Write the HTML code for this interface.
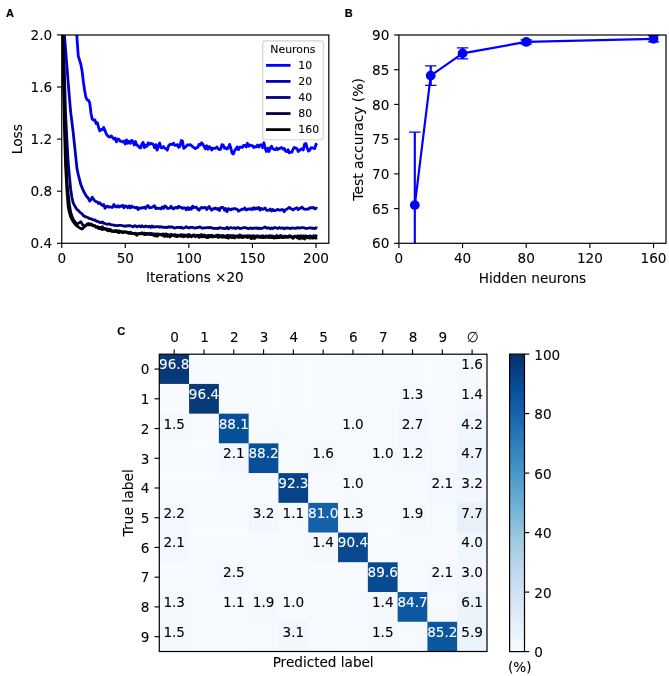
<!DOCTYPE html>
<html><head><meta charset="utf-8"><title>Figure</title>
<style>html,body{margin:0;padding:0;background:#fff}svg{display:block}</style>
</head><body>
<svg width="669" height="676" viewBox="0 0 669 676">
<clipPath id="ca"><rect x="61.75" y="35.0" width="267.05" height="208.3"/></clipPath>
<g clip-path="url(#ca)" fill="none" stroke-width="2.8" stroke-linejoin="round" stroke-linecap="butt">
<path d="M61.75 -290.72 L63.02 -261.42 L64.29 -232.11 L65.56 -202.81 L66.84 -173.50 L68.11 -144.19 L69.38 -114.89 L70.65 -85.58 L71.92 -56.28 L73.19 -32.90 L74.46 -9.52 L75.73 13.86 L77.01 38.65 L78.28 56.10 L79.55 60.17 L80.82 64.24 L82.09 70.96 L83.36 81.65 L84.63 90.43 L85.90 97.28 L87.18 100.03 L88.45 100.03 L89.72 102.85 L90.99 113.26 L92.26 119.13 L93.53 120.02 L94.80 119.83 L96.08 123.44 L97.35 122.75 L98.62 127.43 L99.89 130.98 L101.16 129.37 L102.43 129.75 L103.70 127.54 L104.97 130.41 L106.25 133.89 L107.52 135.52 L108.79 136.94 L110.06 137.00 L111.33 135.86 L112.60 137.63 L113.87 139.14 L115.14 137.99 L116.42 141.81 L117.69 138.97 L118.96 139.34 L120.23 141.20 L121.50 141.40 L122.77 141.99 L124.04 140.89 L125.31 143.96 L126.59 139.88 L127.86 143.31 L129.13 141.34 L130.40 143.39 L131.67 140.35 L132.94 141.48 L134.21 145.05 L135.49 141.54 L136.76 145.15 L138.03 145.59 L139.30 147.33 L140.57 147.93 L141.84 144.28 L143.11 142.37 L144.38 147.63 L145.66 145.25 L146.93 146.37 L148.20 142.83 L149.47 144.32 L150.74 143.49 L152.01 143.58 L153.28 144.39 L154.55 147.83 L155.83 144.63 L157.10 150.11 L158.37 145.74 L159.64 142.96 L160.91 147.68 L162.18 147.92 L163.45 146.50 L164.73 148.26 L166.00 148.30 L167.27 150.17 L168.54 145.83 L169.81 144.62 L171.08 144.17 L172.35 144.54 L173.62 143.13 L174.90 145.41 L176.17 145.43 L177.44 144.56 L178.71 147.31 L179.98 146.34 L181.25 140.51 L182.52 141.12 L183.79 148.42 L185.07 147.46 L186.34 146.13 L187.61 144.76 L188.88 145.05 L190.15 144.60 L191.42 145.67 L192.69 146.56 L193.97 147.71 L195.24 148.61 L196.51 147.70 L197.78 147.55 L199.05 144.33 L200.32 145.10 L201.59 142.84 L202.86 144.26 L204.14 146.48 L205.41 148.88 L206.68 145.81 L207.95 149.19 L209.22 146.62 L210.49 147.61 L211.76 149.99 L213.03 148.15 L214.31 148.35 L215.58 148.27 L216.85 147.07 L218.12 148.61 L219.39 149.60 L220.66 149.14 L221.93 144.65 L223.21 145.11 L224.48 148.20 L225.75 147.76 L227.02 149.10 L228.29 147.76 L229.56 144.40 L230.83 148.08 L232.10 153.28 L233.38 153.94 L234.65 150.69 L235.92 148.93 L237.19 146.89 L238.46 149.66 L239.73 147.10 L241.00 147.09 L242.27 147.47 L243.55 145.42 L244.82 145.43 L246.09 146.92 L247.36 143.27 L248.63 146.22 L249.90 144.87 L251.17 145.61 L252.45 145.60 L253.72 147.53 L254.99 146.59 L256.26 146.89 L257.53 145.07 L258.80 147.07 L260.07 144.91 L261.34 144.84 L262.62 147.71 L263.89 142.74 L265.16 148.19 L266.43 151.54 L267.70 148.15 L268.97 151.55 L270.24 148.12 L271.51 146.18 L272.79 148.78 L274.06 149.29 L275.33 149.60 L276.60 148.04 L277.87 149.45 L279.14 148.57 L280.41 148.10 L281.68 147.51 L282.96 149.14 L284.23 148.42 L285.50 151.04 L286.77 151.62 L288.04 149.71 L289.31 152.90 L290.58 152.08 L291.86 152.23 L293.13 149.08 L294.40 147.36 L295.67 148.11 L296.94 148.59 L298.21 151.56 L299.48 150.27 L300.75 149.35 L302.03 148.70 L303.30 150.01 L304.57 143.98 L305.84 143.52 L307.11 147.77 L308.38 151.11 L309.65 150.40 L310.92 147.96 L312.20 147.73 L313.47 148.24 L314.74 148.64 L316.01 144.36 L317.28 143.82" stroke="#0000ff"/>
<path d="M61.75 -4.17 L63.02 14.43 L64.29 33.04 L65.56 49.29 L66.84 65.28 L68.11 81.27 L69.38 97.26 L70.65 112.05 L71.92 122.01 L73.19 132.41 L74.46 144.57 L75.73 156.72 L77.01 168.88 L78.28 174.59 L79.55 179.69 L80.82 184.61 L82.09 187.77 L83.36 190.75 L84.63 193.08 L85.90 195.41 L87.18 197.02 L88.45 198.49 L89.72 201.09 L90.99 199.82 L92.26 197.12 L93.53 199.19 L94.80 200.84 L96.08 201.68 L97.35 201.94 L98.62 203.64 L99.89 202.82 L101.16 204.26 L102.43 205.61 L103.70 204.43 L104.97 208.26 L106.25 206.74 L107.52 206.09 L108.79 207.27 L110.06 206.72 L111.33 207.30 L112.60 207.45 L113.87 204.52 L115.14 206.50 L116.42 207.05 L117.69 205.73 L118.96 207.08 L120.23 205.99 L121.50 206.40 L122.77 205.17 L124.04 207.88 L125.31 205.82 L126.59 206.33 L127.86 207.71 L129.13 205.92 L130.40 207.93 L131.67 205.90 L132.94 207.15 L134.21 207.22 L135.49 207.92 L136.76 207.14 L138.03 209.63 L139.30 207.84 L140.57 208.45 L141.84 207.59 L143.11 207.86 L144.38 207.22 L145.66 208.52 L146.93 206.05 L148.20 205.59 L149.47 207.86 L150.74 207.66 L152.01 207.35 L153.28 206.43 L154.55 205.83 L155.83 208.62 L157.10 208.06 L158.37 208.44 L159.64 208.45 L160.91 208.90 L162.18 207.05 L163.45 208.41 L164.73 206.01 L166.00 206.57 L167.27 208.37 L168.54 208.39 L169.81 208.04 L171.08 206.23 L172.35 208.31 L173.62 208.92 L174.90 207.63 L176.17 207.27 L177.44 208.24 L178.71 206.19 L179.98 207.47 L181.25 207.30 L182.52 208.52 L183.79 207.80 L185.07 207.94 L186.34 209.89 L187.61 207.58 L188.88 209.51 L190.15 207.92 L191.42 209.27 L192.69 206.11 L193.97 207.68 L195.24 207.22 L196.51 207.19 L197.78 209.26 L199.05 210.16 L200.32 208.41 L201.59 207.31 L202.86 208.08 L204.14 207.47 L205.41 207.36 L206.68 209.60 L207.95 208.00 L209.22 206.50 L210.49 208.84 L211.76 210.19 L213.03 208.58 L214.31 208.82 L215.58 208.06 L216.85 209.31 L218.12 208.47 L219.39 210.62 L220.66 207.87 L221.93 207.26 L223.21 207.57 L224.48 210.19 L225.75 208.57 L227.02 211.63 L228.29 208.71 L229.56 209.08 L230.83 209.98 L232.10 208.81 L233.38 209.05 L234.65 208.37 L235.92 209.16 L237.19 209.12 L238.46 211.16 L239.73 210.49 L241.00 209.83 L242.27 209.08 L243.55 209.31 L244.82 207.89 L246.09 210.01 L247.36 209.39 L248.63 208.90 L249.90 209.30 L251.17 208.59 L252.45 209.52 L253.72 207.66 L254.99 209.21 L256.26 207.85 L257.53 208.85 L258.80 207.42 L260.07 210.12 L261.34 208.43 L262.62 209.36 L263.89 208.82 L265.16 208.00 L266.43 210.19 L267.70 210.41 L268.97 210.18 L270.24 209.10 L271.51 211.11 L272.79 209.36 L274.06 210.69 L275.33 210.62 L276.60 209.97 L277.87 209.35 L279.14 210.21 L280.41 210.04 L281.68 209.58 L282.96 209.74 L284.23 211.88 L285.50 209.78 L286.77 209.25 L288.04 208.28 L289.31 207.36 L290.58 208.57 L291.86 209.05 L293.13 209.95 L294.40 208.94 L295.67 208.26 L296.94 207.76 L298.21 209.68 L299.48 208.63 L300.75 208.07 L302.03 207.09 L303.30 208.52 L304.57 209.21 L305.84 209.31 L307.11 208.98 L308.38 209.22 L309.65 207.83 L310.92 207.58 L312.20 207.86 L313.47 207.40 L314.74 208.87 L316.01 208.08 L317.28 208.74" stroke="#0000bf"/>
<path d="M61.75 -95.35 L63.02 13.19 L64.29 69.63 L65.56 113.05 L66.84 138.38 L68.11 161.46 L69.38 175.59 L70.65 188.96 L71.92 197.54 L73.19 202.78 L74.46 205.35 L75.73 207.64 L77.01 209.48 L78.28 210.32 L79.55 211.84 L80.82 213.12 L82.09 213.83 L83.36 215.80 L84.63 216.26 L85.90 217.04 L87.18 217.06 L88.45 217.96 L89.72 218.70 L90.99 218.74 L92.26 219.41 L93.53 220.07 L94.80 219.81 L96.08 220.87 L97.35 221.36 L98.62 221.72 L99.89 222.48 L101.16 222.50 L102.43 221.91 L103.70 223.35 L104.97 223.34 L106.25 224.14 L107.52 224.30 L108.79 223.82 L110.06 224.19 L111.33 224.90 L112.60 224.79 L113.87 225.24 L115.14 225.34 L116.42 225.52 L117.69 225.64 L118.96 225.28 L120.23 225.30 L121.50 225.43 L122.77 225.75 L124.04 226.27 L125.31 225.82 L126.59 226.21 L127.86 225.57 L129.13 225.75 L130.40 225.74 L131.67 226.22 L132.94 226.85 L134.21 225.83 L135.49 225.77 L136.76 226.87 L138.03 226.27 L139.30 225.89 L140.57 226.81 L141.84 225.73 L143.11 226.60 L144.38 226.92 L145.66 225.99 L146.93 226.45 L148.20 226.86 L149.47 226.29 L150.74 227.43 L152.01 226.00 L153.28 227.06 L154.55 226.66 L155.83 226.97 L157.10 226.67 L158.37 226.53 L159.64 227.24 L160.91 226.64 L162.18 227.10 L163.45 227.29 L164.73 227.14 L166.00 227.48 L167.27 227.43 L168.54 226.78 L169.81 227.24 L171.08 226.77 L172.35 227.08 L173.62 227.68 L174.90 228.05 L176.17 227.61 L177.44 227.27 L178.71 227.41 L179.98 227.77 L181.25 227.08 L182.52 228.19 L183.79 228.03 L185.07 227.52 L186.34 226.75 L187.61 227.48 L188.88 228.06 L190.15 227.45 L191.42 227.42 L192.69 227.33 L193.97 227.87 L195.24 228.03 L196.51 227.69 L197.78 227.58 L199.05 227.13 L200.32 226.95 L201.59 228.06 L202.86 227.99 L204.14 227.82 L205.41 227.90 L206.68 227.63 L207.95 227.64 L209.22 227.74 L210.49 227.32 L211.76 227.92 L213.03 228.28 L214.31 228.49 L215.58 228.29 L216.85 228.31 L218.12 228.65 L219.39 227.66 L220.66 227.86 L221.93 228.11 L223.21 228.30 L224.48 228.58 L225.75 228.33 L227.02 227.26 L228.29 228.86 L229.56 227.95 L230.83 227.72 L232.10 227.97 L233.38 228.16 L234.65 227.74 L235.92 228.49 L237.19 227.85 L238.46 227.52 L239.73 228.49 L241.00 228.42 L242.27 228.05 L243.55 227.73 L244.82 227.61 L246.09 227.87 L247.36 228.41 L248.63 228.60 L249.90 228.08 L251.17 228.02 L252.45 228.62 L253.72 228.17 L254.99 228.06 L256.26 227.78 L257.53 228.58 L258.80 227.97 L260.07 228.65 L261.34 228.36 L262.62 228.22 L263.89 227.60 L265.16 226.90 L266.43 228.09 L267.70 228.00 L268.97 227.80 L270.24 228.72 L271.51 227.89 L272.79 228.68 L274.06 227.55 L275.33 227.63 L276.60 228.00 L277.87 228.51 L279.14 227.54 L280.41 228.09 L281.68 228.15 L282.96 227.96 L284.23 228.86 L285.50 228.02 L286.77 227.80 L288.04 228.06 L289.31 228.13 L290.58 228.56 L291.86 227.94 L293.13 228.11 L294.40 228.19 L295.67 228.41 L296.94 227.86 L298.21 227.70 L299.48 228.04 L300.75 227.84 L302.03 227.67 L303.30 227.57 L304.57 228.10 L305.84 228.27 L307.11 228.35 L308.38 228.19 L309.65 227.98 L310.92 227.82 L312.20 228.36 L313.47 228.13 L314.74 228.58 L316.01 227.70 L317.28 228.34" stroke="#000080"/>
<path d="M61.75 -95.35 L63.02 40.91 L64.29 101.03 L65.56 147.78 L66.84 179.55 L68.11 193.51 L69.38 204.21 L70.65 212.29 L71.92 216.06 L73.19 219.41 L74.46 221.08 L75.73 222.76 L77.01 223.65 L78.28 223.38 L79.55 222.59 L80.82 221.63 L82.09 223.77 L83.36 225.59 L84.63 226.47 L85.90 225.49 L87.18 224.51 L88.45 224.92 L89.72 224.57 L90.99 225.03 L92.26 225.46 L93.53 225.92 L94.80 225.83 L96.08 227.28 L97.35 226.72 L98.62 227.04 L99.89 227.30 L101.16 227.52 L102.43 226.71 L103.70 228.43 L104.97 228.48 L106.25 229.06 L107.52 228.82 L108.79 230.54 L110.06 229.27 L111.33 230.38 L112.60 231.17 L113.87 230.88 L115.14 230.71 L116.42 230.74 L117.69 231.01 L118.96 230.85 L120.23 231.36 L121.50 231.55 L122.77 232.54 L124.04 231.69 L125.31 231.66 L126.59 232.40 L127.86 233.14 L129.13 233.11 L130.40 232.11 L131.67 233.18 L132.94 233.38 L134.21 233.61 L135.49 233.16 L136.76 233.73 L138.03 233.91 L139.30 233.71 L140.57 233.23 L141.84 232.87 L143.11 233.38 L144.38 233.05 L145.66 233.40 L146.93 233.48 L148.20 233.54 L149.47 233.66 L150.74 233.34 L152.01 233.62 L153.28 234.11 L154.55 233.90 L155.83 234.05 L157.10 233.90 L158.37 234.09 L159.64 234.07 L160.91 234.88 L162.18 234.22 L163.45 233.93 L164.73 235.01 L166.00 233.90 L167.27 234.44 L168.54 234.68 L169.81 235.34 L171.08 234.25 L172.35 235.10 L173.62 234.96 L174.90 234.58 L176.17 235.23 L177.44 235.26 L178.71 235.36 L179.98 234.99 L181.25 234.76 L182.52 234.87 L183.79 234.91 L185.07 235.24 L186.34 235.09 L187.61 235.46 L188.88 234.44 L190.15 235.16 L191.42 236.02 L192.69 235.69 L193.97 234.66 L195.24 235.84 L196.51 235.49 L197.78 235.18 L199.05 235.78 L200.32 234.95 L201.59 234.72 L202.86 235.72 L204.14 234.97 L205.41 235.78 L206.68 235.83 L207.95 235.36 L209.22 235.38 L210.49 235.72 L211.76 235.18 L213.03 236.10 L214.31 235.87 L215.58 235.97 L216.85 235.27 L218.12 235.27 L219.39 235.34 L220.66 236.12 L221.93 235.58 L223.21 235.47 L224.48 236.29 L225.75 236.00 L227.02 235.44 L228.29 235.43 L229.56 235.62 L230.83 235.53 L232.10 235.63 L233.38 235.71 L234.65 235.83 L235.92 236.14 L237.19 235.91 L238.46 235.99 L239.73 234.94 L241.00 235.76 L242.27 235.89 L243.55 235.99 L244.82 235.96 L246.09 236.03 L247.36 235.73 L248.63 235.97 L249.90 235.66 L251.17 236.26 L252.45 235.87 L253.72 235.67 L254.99 236.47 L256.26 235.96 L257.53 235.93 L258.80 236.16 L260.07 236.23 L261.34 236.77 L262.62 235.60 L263.89 236.42 L265.16 236.54 L266.43 235.81 L267.70 236.78 L268.97 235.70 L270.24 235.91 L271.51 235.85 L272.79 236.15 L274.06 236.57 L275.33 236.84 L276.60 235.53 L277.87 236.29 L279.14 236.32 L280.41 235.50 L281.68 236.37 L282.96 236.22 L284.23 236.23 L285.50 236.19 L286.77 236.55 L288.04 236.37 L289.31 235.65 L290.58 235.86 L291.86 237.33 L293.13 236.93 L294.40 236.04 L295.67 236.22 L296.94 236.33 L298.21 235.78 L299.48 236.89 L300.75 235.73 L302.03 236.15 L303.30 236.00 L304.57 236.12 L305.84 235.89 L307.11 236.32 L308.38 236.44 L309.65 235.93 L310.92 236.17 L312.20 236.74 L313.47 235.72 L314.74 235.78 L316.01 235.70 L317.28 236.24" stroke="#000040"/>
<path d="M61.75 -95.35 L63.02 56.21 L64.29 121.73 L65.56 165.15 L66.84 188.80 L68.11 205.92 L69.38 212.48 L70.65 216.83 L71.92 219.38 L73.19 221.73 L74.46 223.28 L75.73 224.83 L77.01 225.91 L78.28 226.91 L79.55 227.74 L80.82 228.39 L82.09 229.04 L83.36 228.00 L84.63 226.39 L85.90 225.18 L87.18 223.97 L88.45 223.45 L89.72 223.96 L90.99 224.03 L92.26 224.72 L93.53 225.32 L94.80 225.65 L96.08 226.96 L97.35 227.07 L98.62 228.45 L99.89 228.75 L101.16 228.60 L102.43 229.54 L103.70 229.11 L104.97 228.94 L106.25 229.70 L107.52 230.54 L108.79 230.80 L110.06 229.94 L111.33 231.32 L112.60 231.11 L113.87 231.54 L115.14 231.59 L116.42 231.17 L117.69 232.15 L118.96 232.72 L120.23 231.36 L121.50 232.12 L122.77 231.99 L124.04 232.50 L125.31 232.21 L126.59 232.08 L127.86 232.20 L129.13 233.23 L130.40 233.46 L131.67 233.25 L132.94 233.53 L134.21 233.52 L135.49 234.32 L136.76 235.23 L138.03 233.86 L139.30 233.75 L140.57 233.89 L141.84 233.43 L143.11 233.92 L144.38 234.64 L145.66 233.99 L146.93 234.62 L148.20 233.99 L149.47 234.59 L150.74 234.55 L152.01 234.74 L153.28 234.90 L154.55 235.78 L155.83 235.04 L157.10 236.32 L158.37 234.95 L159.64 234.76 L160.91 234.28 L162.18 235.22 L163.45 235.86 L164.73 236.37 L166.00 234.57 L167.27 236.38 L168.54 235.23 L169.81 236.95 L171.08 235.82 L172.35 235.49 L173.62 235.73 L174.90 235.98 L176.17 236.44 L177.44 236.53 L178.71 235.58 L179.98 235.94 L181.25 236.30 L182.52 236.16 L183.79 236.80 L185.07 235.84 L186.34 235.77 L187.61 236.88 L188.88 236.47 L190.15 236.00 L191.42 236.89 L192.69 235.51 L193.97 235.80 L195.24 236.75 L196.51 236.11 L197.78 235.77 L199.05 237.30 L200.32 236.35 L201.59 236.76 L202.86 236.81 L204.14 236.34 L205.41 236.98 L206.68 237.48 L207.95 237.50 L209.22 236.79 L210.49 236.47 L211.76 236.82 L213.03 236.90 L214.31 236.86 L215.58 236.18 L216.85 236.59 L218.12 237.28 L219.39 237.05 L220.66 236.29 L221.93 237.24 L223.21 237.15 L224.48 236.98 L225.75 237.54 L227.02 236.53 L228.29 238.15 L229.56 236.27 L230.83 237.27 L232.10 237.71 L233.38 236.93 L234.65 237.98 L235.92 236.83 L237.19 236.72 L238.46 237.44 L239.73 237.35 L241.00 236.67 L242.27 237.53 L243.55 237.19 L244.82 237.03 L246.09 236.42 L247.36 237.51 L248.63 237.24 L249.90 236.69 L251.17 238.62 L252.45 237.45 L253.72 238.31 L254.99 238.29 L256.26 236.32 L257.53 237.24 L258.80 236.59 L260.07 237.50 L261.34 237.10 L262.62 237.62 L263.89 237.69 L265.16 237.45 L266.43 237.35 L267.70 236.63 L268.97 237.54 L270.24 237.25 L271.51 237.60 L272.79 237.40 L274.06 238.17 L275.33 236.92 L276.60 237.77 L277.87 237.49 L279.14 237.63 L280.41 237.02 L281.68 237.27 L282.96 237.55 L284.23 237.47 L285.50 237.40 L286.77 237.19 L288.04 237.33 L289.31 236.94 L290.58 236.77 L291.86 237.31 L293.13 238.32 L294.40 236.73 L295.67 236.54 L296.94 237.86 L298.21 237.89 L299.48 238.76 L300.75 237.29 L302.03 238.23 L303.30 236.76 L304.57 239.02 L305.84 237.70 L307.11 237.40 L308.38 237.97 L309.65 238.18 L310.92 237.65 L312.20 238.06 L313.47 237.98 L314.74 237.83 L316.01 238.11 L317.28 237.95" stroke="#000000"/>
</g>
<rect x="61.75" y="35.0" width="267.05" height="208.30" fill="none" stroke="#000" stroke-width="1.2"/>
<line x1="61.75" y1="243.30" x2="61.75" y2="248.10" stroke="#000" stroke-width="1.15"/>
<text transform="translate(61.75 263.05) scale(1 1.07)" font-size="13.6" text-anchor="middle" font-family="DejaVu Sans, Liberation Sans, sans-serif" fill="#000" stroke="#000" stroke-width="0.08">0</text>
<line x1="125.31" y1="243.30" x2="125.31" y2="248.10" stroke="#000" stroke-width="1.15"/>
<text transform="translate(125.31 263.05) scale(1 1.07)" font-size="13.6" text-anchor="middle" font-family="DejaVu Sans, Liberation Sans, sans-serif" fill="#000" stroke="#000" stroke-width="0.08">50</text>
<line x1="188.88" y1="243.30" x2="188.88" y2="248.10" stroke="#000" stroke-width="1.15"/>
<text transform="translate(188.88 263.05) scale(1 1.07)" font-size="13.6" text-anchor="middle" font-family="DejaVu Sans, Liberation Sans, sans-serif" fill="#000" stroke="#000" stroke-width="0.08">100</text>
<line x1="252.45" y1="243.30" x2="252.45" y2="248.10" stroke="#000" stroke-width="1.15"/>
<text transform="translate(252.45 263.05) scale(1 1.07)" font-size="13.6" text-anchor="middle" font-family="DejaVu Sans, Liberation Sans, sans-serif" fill="#000" stroke="#000" stroke-width="0.08">150</text>
<line x1="316.01" y1="243.30" x2="316.01" y2="248.10" stroke="#000" stroke-width="1.15"/>
<text transform="translate(316.01 263.05) scale(1 1.07)" font-size="13.6" text-anchor="middle" font-family="DejaVu Sans, Liberation Sans, sans-serif" fill="#000" stroke="#000" stroke-width="0.08">200</text>
<line x1="61.75" y1="243.30" x2="56.95" y2="243.30" stroke="#000" stroke-width="1.15"/>
<text transform="translate(52.15 248.41) scale(1 1.07)" font-size="13.6" text-anchor="end" font-family="DejaVu Sans, Liberation Sans, sans-serif" fill="#000" stroke="#000" stroke-width="0.08">0.4</text>
<line x1="61.75" y1="191.20" x2="56.95" y2="191.20" stroke="#000" stroke-width="1.15"/>
<text transform="translate(52.15 196.31) scale(1 1.07)" font-size="13.6" text-anchor="end" font-family="DejaVu Sans, Liberation Sans, sans-serif" fill="#000" stroke="#000" stroke-width="0.08">0.8</text>
<line x1="61.75" y1="139.10" x2="56.95" y2="139.10" stroke="#000" stroke-width="1.15"/>
<text transform="translate(52.15 144.21) scale(1 1.07)" font-size="13.6" text-anchor="end" font-family="DejaVu Sans, Liberation Sans, sans-serif" fill="#000" stroke="#000" stroke-width="0.08">1.2</text>
<line x1="61.75" y1="87.00" x2="56.95" y2="87.00" stroke="#000" stroke-width="1.15"/>
<text transform="translate(52.15 92.11) scale(1 1.07)" font-size="13.6" text-anchor="end" font-family="DejaVu Sans, Liberation Sans, sans-serif" fill="#000" stroke="#000" stroke-width="0.08">1.6</text>
<line x1="61.75" y1="34.90" x2="56.95" y2="34.90" stroke="#000" stroke-width="1.15"/>
<text transform="translate(52.15 40.01) scale(1 1.07)" font-size="13.6" text-anchor="end" font-family="DejaVu Sans, Liberation Sans, sans-serif" fill="#000" stroke="#000" stroke-width="0.08">2.0</text>
<text transform="translate(21.70 139.15) rotate(-90)" font-size="13.85" text-anchor="middle" font-family="DejaVu Sans, Liberation Sans, sans-serif" fill="#000" stroke="#000" stroke-width="0.08">Loss</text>
<text x="194.88" y="281.80" font-size="13.6" text-anchor="middle" font-family="DejaVu Sans, Liberation Sans, sans-serif" fill="#000" stroke="#000" stroke-width="0.08">Iterations ×20</text>
<rect x="262.8" y="40.9" width="60.4" height="98.8" rx="2.2" ry="2.2" fill="#fff" fill-opacity="0.8" stroke="#d2d2d2" stroke-width="1.15"/>
<text x="292.90" y="53.00" font-size="10.9" text-anchor="middle" font-family="DejaVu Sans, Liberation Sans, sans-serif" fill="#000" stroke="#000" stroke-width="0.08">Neurons</text>
<line x1="266" y1="65.35" x2="290.5" y2="65.35" stroke="#0000ff" stroke-width="2.8"/>
<text transform="translate(298.30 69.00) scale(1 1.04)" font-size="10.9" text-anchor="start" font-family="DejaVu Sans, Liberation Sans, sans-serif" fill="#000" stroke="#000" stroke-width="0.08">10</text>
<line x1="266" y1="81.42" x2="290.5" y2="81.42" stroke="#0000bf" stroke-width="2.8"/>
<text transform="translate(298.30 85.07) scale(1 1.04)" font-size="10.9" text-anchor="start" font-family="DejaVu Sans, Liberation Sans, sans-serif" fill="#000" stroke="#000" stroke-width="0.08">20</text>
<line x1="266" y1="97.49" x2="290.5" y2="97.49" stroke="#000080" stroke-width="2.8"/>
<text transform="translate(298.30 101.14) scale(1 1.04)" font-size="10.9" text-anchor="start" font-family="DejaVu Sans, Liberation Sans, sans-serif" fill="#000" stroke="#000" stroke-width="0.08">40</text>
<line x1="266" y1="113.56" x2="290.5" y2="113.56" stroke="#000040" stroke-width="2.8"/>
<text transform="translate(298.30 117.21) scale(1 1.04)" font-size="10.9" text-anchor="start" font-family="DejaVu Sans, Liberation Sans, sans-serif" fill="#000" stroke="#000" stroke-width="0.08">80</text>
<line x1="266" y1="129.63" x2="290.5" y2="129.63" stroke="#000000" stroke-width="2.8"/>
<text transform="translate(298.30 133.28) scale(1 1.04)" font-size="10.9" text-anchor="start" font-family="DejaVu Sans, Liberation Sans, sans-serif" fill="#000" stroke="#000" stroke-width="0.08">160</text>
<clipPath id="cb"><rect x="398.9" y="35.0" width="267.10" height="208.30"/></clipPath>
<g clip-path="url(#cb)">
<path d="M414.81 205.11 L430.73 75.62 L462.56 53.40 L526.22 41.94 L653.54 38.82" fill="none" stroke="#0000ff" stroke-width="2.2" stroke-linejoin="round"/>
<line x1="414.81" y1="132.21" x2="414.81" y2="278.02" stroke="#0000ff" stroke-width="2.15"/>
<line x1="409.12" y1="132.21" x2="420.51" y2="132.21" stroke="#0000ff" stroke-width="1.3"/>
<line x1="409.12" y1="278.02" x2="420.51" y2="278.02" stroke="#0000ff" stroke-width="1.3"/>
<circle cx="414.81" cy="205.11" r="4.9" fill="#0000ff"/>
<line x1="430.73" y1="65.90" x2="430.73" y2="85.34" stroke="#0000ff" stroke-width="2.15"/>
<line x1="425.03" y1="65.90" x2="436.43" y2="65.90" stroke="#0000ff" stroke-width="1.3"/>
<line x1="425.03" y1="85.34" x2="436.43" y2="85.34" stroke="#0000ff" stroke-width="1.3"/>
<circle cx="430.73" cy="75.62" r="4.9" fill="#0000ff"/>
<line x1="462.56" y1="47.85" x2="462.56" y2="58.95" stroke="#0000ff" stroke-width="2.15"/>
<line x1="456.86" y1="47.85" x2="468.26" y2="47.85" stroke="#0000ff" stroke-width="1.3"/>
<line x1="456.86" y1="58.95" x2="468.26" y2="58.95" stroke="#0000ff" stroke-width="1.3"/>
<circle cx="462.56" cy="53.40" r="4.9" fill="#0000ff"/>
<line x1="526.22" y1="39.86" x2="526.22" y2="44.03" stroke="#0000ff" stroke-width="2.15"/>
<line x1="520.52" y1="39.86" x2="531.92" y2="39.86" stroke="#0000ff" stroke-width="1.3"/>
<line x1="520.52" y1="44.03" x2="531.92" y2="44.03" stroke="#0000ff" stroke-width="1.3"/>
<circle cx="526.22" cy="41.94" r="4.9" fill="#0000ff"/>
<line x1="653.54" y1="35.69" x2="653.54" y2="41.94" stroke="#0000ff" stroke-width="2.15"/>
<line x1="647.84" y1="35.69" x2="659.24" y2="35.69" stroke="#0000ff" stroke-width="1.3"/>
<line x1="647.84" y1="41.94" x2="659.24" y2="41.94" stroke="#0000ff" stroke-width="1.3"/>
<circle cx="653.54" cy="38.82" r="4.9" fill="#0000ff"/>
</g>
<rect x="398.9" y="35.0" width="267.10" height="208.30" fill="none" stroke="#000" stroke-width="1.2"/>
<line x1="398.90" y1="243.30" x2="398.90" y2="248.10" stroke="#000" stroke-width="1.15"/>
<text transform="translate(398.90 263.05) scale(1 1.07)" font-size="13.6" text-anchor="middle" font-family="DejaVu Sans, Liberation Sans, sans-serif" fill="#000" stroke="#000" stroke-width="0.08">0</text>
<line x1="462.56" y1="243.30" x2="462.56" y2="248.10" stroke="#000" stroke-width="1.15"/>
<text transform="translate(462.56 263.05) scale(1 1.07)" font-size="13.6" text-anchor="middle" font-family="DejaVu Sans, Liberation Sans, sans-serif" fill="#000" stroke="#000" stroke-width="0.08">40</text>
<line x1="526.22" y1="243.30" x2="526.22" y2="248.10" stroke="#000" stroke-width="1.15"/>
<text transform="translate(526.22 263.05) scale(1 1.07)" font-size="13.6" text-anchor="middle" font-family="DejaVu Sans, Liberation Sans, sans-serif" fill="#000" stroke="#000" stroke-width="0.08">80</text>
<line x1="589.88" y1="243.30" x2="589.88" y2="248.10" stroke="#000" stroke-width="1.15"/>
<text transform="translate(589.88 263.05) scale(1 1.07)" font-size="13.6" text-anchor="middle" font-family="DejaVu Sans, Liberation Sans, sans-serif" fill="#000" stroke="#000" stroke-width="0.08">120</text>
<line x1="653.54" y1="243.30" x2="653.54" y2="248.10" stroke="#000" stroke-width="1.15"/>
<text transform="translate(653.54 263.05) scale(1 1.07)" font-size="13.6" text-anchor="middle" font-family="DejaVu Sans, Liberation Sans, sans-serif" fill="#000" stroke="#000" stroke-width="0.08">160</text>
<line x1="398.90" y1="243.30" x2="394.10" y2="243.30" stroke="#000" stroke-width="1.15"/>
<text transform="translate(389.30 248.41) scale(1 1.07)" font-size="13.6" text-anchor="end" font-family="DejaVu Sans, Liberation Sans, sans-serif" fill="#000" stroke="#000" stroke-width="0.08">60</text>
<line x1="398.90" y1="208.58" x2="394.10" y2="208.58" stroke="#000" stroke-width="1.15"/>
<text transform="translate(389.30 213.69) scale(1 1.07)" font-size="13.6" text-anchor="end" font-family="DejaVu Sans, Liberation Sans, sans-serif" fill="#000" stroke="#000" stroke-width="0.08">65</text>
<line x1="398.90" y1="173.87" x2="394.10" y2="173.87" stroke="#000" stroke-width="1.15"/>
<text transform="translate(389.30 178.98) scale(1 1.07)" font-size="13.6" text-anchor="end" font-family="DejaVu Sans, Liberation Sans, sans-serif" fill="#000" stroke="#000" stroke-width="0.08">70</text>
<line x1="398.90" y1="139.15" x2="394.10" y2="139.15" stroke="#000" stroke-width="1.15"/>
<text transform="translate(389.30 144.26) scale(1 1.07)" font-size="13.6" text-anchor="end" font-family="DejaVu Sans, Liberation Sans, sans-serif" fill="#000" stroke="#000" stroke-width="0.08">75</text>
<line x1="398.90" y1="104.43" x2="394.10" y2="104.43" stroke="#000" stroke-width="1.15"/>
<text transform="translate(389.30 109.54) scale(1 1.07)" font-size="13.6" text-anchor="end" font-family="DejaVu Sans, Liberation Sans, sans-serif" fill="#000" stroke="#000" stroke-width="0.08">80</text>
<line x1="398.90" y1="69.72" x2="394.10" y2="69.72" stroke="#000" stroke-width="1.15"/>
<text transform="translate(389.30 74.83) scale(1 1.07)" font-size="13.6" text-anchor="end" font-family="DejaVu Sans, Liberation Sans, sans-serif" fill="#000" stroke="#000" stroke-width="0.08">85</text>
<line x1="398.90" y1="35.00" x2="394.10" y2="35.00" stroke="#000" stroke-width="1.15"/>
<text transform="translate(389.30 40.11) scale(1 1.07)" font-size="13.6" text-anchor="end" font-family="DejaVu Sans, Liberation Sans, sans-serif" fill="#000" stroke="#000" stroke-width="0.08">90</text>
<text transform="translate(363.40 139.45) rotate(-90)" font-size="13.85" text-anchor="middle" font-family="DejaVu Sans, Liberation Sans, sans-serif" fill="#000" stroke="#000" stroke-width="0.08">Test accuracy (%)</text>
<text x="532.45" y="282.60" font-size="13.6" text-anchor="middle" font-family="DejaVu Sans, Liberation Sans, sans-serif" fill="#000" stroke="#000" stroke-width="0.08">Hidden neurons</text>
<rect x="159.30" y="354.20" width="30.09" height="30.03" fill="#083877"/>
<rect x="189.09" y="354.20" width="30.09" height="30.03" fill="#f7fbff"/>
<rect x="218.88" y="354.20" width="30.09" height="30.03" fill="#f7fbff"/>
<rect x="248.67" y="354.20" width="30.09" height="30.03" fill="#f7fbff"/>
<rect x="278.46" y="354.20" width="30.09" height="30.03" fill="#f7fbff"/>
<rect x="308.25" y="354.20" width="30.09" height="30.03" fill="#f7fbff"/>
<rect x="338.05" y="354.20" width="30.09" height="30.03" fill="#f6faff"/>
<rect x="367.84" y="354.20" width="30.09" height="30.03" fill="#f7fbff"/>
<rect x="397.63" y="354.20" width="30.09" height="30.03" fill="#f7fbff"/>
<rect x="427.42" y="354.20" width="30.09" height="30.03" fill="#f7fbff"/>
<rect x="457.21" y="354.20" width="30.09" height="30.03" fill="#f4f9fe"/>
<rect x="159.30" y="383.93" width="30.09" height="30.03" fill="#f7fbff"/>
<rect x="189.09" y="383.93" width="30.09" height="30.03" fill="#083979"/>
<rect x="218.88" y="383.93" width="30.09" height="30.03" fill="#f7fbff"/>
<rect x="248.67" y="383.93" width="30.09" height="30.03" fill="#f7fbff"/>
<rect x="278.46" y="383.93" width="30.09" height="30.03" fill="#f7fbff"/>
<rect x="308.25" y="383.93" width="30.09" height="30.03" fill="#f7fbff"/>
<rect x="338.05" y="383.93" width="30.09" height="30.03" fill="#f7fbff"/>
<rect x="367.84" y="383.93" width="30.09" height="30.03" fill="#f7fbff"/>
<rect x="397.63" y="383.93" width="30.09" height="30.03" fill="#f5f9fe"/>
<rect x="427.42" y="383.93" width="30.09" height="30.03" fill="#f7fbff"/>
<rect x="457.21" y="383.93" width="30.09" height="30.03" fill="#f5f9fe"/>
<rect x="159.30" y="413.66" width="30.09" height="30.03" fill="#f5f9fe"/>
<rect x="189.09" y="413.66" width="30.09" height="30.03" fill="#f7fbff"/>
<rect x="218.88" y="413.66" width="30.09" height="30.03" fill="#084f99"/>
<rect x="248.67" y="413.66" width="30.09" height="30.03" fill="#f5fafe"/>
<rect x="278.46" y="413.66" width="30.09" height="30.03" fill="#f6faff"/>
<rect x="308.25" y="413.66" width="30.09" height="30.03" fill="#f7fbff"/>
<rect x="338.05" y="413.66" width="30.09" height="30.03" fill="#f5fafe"/>
<rect x="367.84" y="413.66" width="30.09" height="30.03" fill="#f6faff"/>
<rect x="397.63" y="413.66" width="30.09" height="30.03" fill="#f2f8fd"/>
<rect x="427.42" y="413.66" width="30.09" height="30.03" fill="#f7fbff"/>
<rect x="457.21" y="413.66" width="30.09" height="30.03" fill="#eff6fc"/>
<rect x="159.30" y="443.39" width="30.09" height="30.03" fill="#f7fbff"/>
<rect x="189.09" y="443.39" width="30.09" height="30.03" fill="#f7fbff"/>
<rect x="218.88" y="443.39" width="30.09" height="30.03" fill="#f3f8fe"/>
<rect x="248.67" y="443.39" width="30.09" height="30.03" fill="#084f99"/>
<rect x="278.46" y="443.39" width="30.09" height="30.03" fill="#f7fbff"/>
<rect x="308.25" y="443.39" width="30.09" height="30.03" fill="#f4f9fe"/>
<rect x="338.05" y="443.39" width="30.09" height="30.03" fill="#f7fbff"/>
<rect x="367.84" y="443.39" width="30.09" height="30.03" fill="#f5fafe"/>
<rect x="397.63" y="443.39" width="30.09" height="30.03" fill="#f5f9fe"/>
<rect x="427.42" y="443.39" width="30.09" height="30.03" fill="#f6faff"/>
<rect x="457.21" y="443.39" width="30.09" height="30.03" fill="#eef5fc"/>
<rect x="159.30" y="473.12" width="30.09" height="30.03" fill="#f7fbff"/>
<rect x="189.09" y="473.12" width="30.09" height="30.03" fill="#f7fbff"/>
<rect x="218.88" y="473.12" width="30.09" height="30.03" fill="#f6faff"/>
<rect x="248.67" y="473.12" width="30.09" height="30.03" fill="#f7fbff"/>
<rect x="278.46" y="473.12" width="30.09" height="30.03" fill="#084488"/>
<rect x="308.25" y="473.12" width="30.09" height="30.03" fill="#f7fbff"/>
<rect x="338.05" y="473.12" width="30.09" height="30.03" fill="#f5fafe"/>
<rect x="367.84" y="473.12" width="30.09" height="30.03" fill="#f7fbff"/>
<rect x="397.63" y="473.12" width="30.09" height="30.03" fill="#f6faff"/>
<rect x="427.42" y="473.12" width="30.09" height="30.03" fill="#f3f8fe"/>
<rect x="457.21" y="473.12" width="30.09" height="30.03" fill="#f1f7fd"/>
<rect x="159.30" y="502.85" width="30.09" height="30.03" fill="#f3f8fe"/>
<rect x="189.09" y="502.85" width="30.09" height="30.03" fill="#f7fbff"/>
<rect x="218.88" y="502.85" width="30.09" height="30.03" fill="#f7fbff"/>
<rect x="248.67" y="502.85" width="30.09" height="30.03" fill="#f1f7fd"/>
<rect x="278.46" y="502.85" width="30.09" height="30.03" fill="#f5fafe"/>
<rect x="308.25" y="502.85" width="30.09" height="30.03" fill="#1561a9"/>
<rect x="338.05" y="502.85" width="30.09" height="30.03" fill="#f5f9fe"/>
<rect x="367.84" y="502.85" width="30.09" height="30.03" fill="#f7fbff"/>
<rect x="397.63" y="502.85" width="30.09" height="30.03" fill="#f4f9fe"/>
<rect x="427.42" y="502.85" width="30.09" height="30.03" fill="#f6faff"/>
<rect x="457.21" y="502.85" width="30.09" height="30.03" fill="#e8f1fa"/>
<rect x="159.30" y="532.58" width="30.09" height="30.03" fill="#f3f8fe"/>
<rect x="189.09" y="532.58" width="30.09" height="30.03" fill="#f7fbff"/>
<rect x="218.88" y="532.58" width="30.09" height="30.03" fill="#f7fbff"/>
<rect x="248.67" y="532.58" width="30.09" height="30.03" fill="#f7fbff"/>
<rect x="278.46" y="532.58" width="30.09" height="30.03" fill="#f6faff"/>
<rect x="308.25" y="532.58" width="30.09" height="30.03" fill="#f5f9fe"/>
<rect x="338.05" y="532.58" width="30.09" height="30.03" fill="#084990"/>
<rect x="367.84" y="532.58" width="30.09" height="30.03" fill="#f7fbff"/>
<rect x="397.63" y="532.58" width="30.09" height="30.03" fill="#f6faff"/>
<rect x="427.42" y="532.58" width="30.09" height="30.03" fill="#f7fbff"/>
<rect x="457.21" y="532.58" width="30.09" height="30.03" fill="#eff6fc"/>
<rect x="159.30" y="562.31" width="30.09" height="30.03" fill="#f7fbff"/>
<rect x="189.09" y="562.31" width="30.09" height="30.03" fill="#f6faff"/>
<rect x="218.88" y="562.31" width="30.09" height="30.03" fill="#f2f8fd"/>
<rect x="248.67" y="562.31" width="30.09" height="30.03" fill="#f6faff"/>
<rect x="278.46" y="562.31" width="30.09" height="30.03" fill="#f6faff"/>
<rect x="308.25" y="562.31" width="30.09" height="30.03" fill="#f7fbff"/>
<rect x="338.05" y="562.31" width="30.09" height="30.03" fill="#f7fbff"/>
<rect x="367.84" y="562.31" width="30.09" height="30.03" fill="#084b93"/>
<rect x="397.63" y="562.31" width="30.09" height="30.03" fill="#f7fbff"/>
<rect x="427.42" y="562.31" width="30.09" height="30.03" fill="#f3f8fe"/>
<rect x="457.21" y="562.31" width="30.09" height="30.03" fill="#f2f7fd"/>
<rect x="159.30" y="592.04" width="30.09" height="30.03" fill="#f5f9fe"/>
<rect x="189.09" y="592.04" width="30.09" height="30.03" fill="#f7fbff"/>
<rect x="218.88" y="592.04" width="30.09" height="30.03" fill="#f5fafe"/>
<rect x="248.67" y="592.04" width="30.09" height="30.03" fill="#f4f9fe"/>
<rect x="278.46" y="592.04" width="30.09" height="30.03" fill="#f5fafe"/>
<rect x="308.25" y="592.04" width="30.09" height="30.03" fill="#f5fafe"/>
<rect x="338.05" y="592.04" width="30.09" height="30.03" fill="#f6faff"/>
<rect x="367.84" y="592.04" width="30.09" height="30.03" fill="#f5f9fe"/>
<rect x="397.63" y="592.04" width="30.09" height="30.03" fill="#0e58a2"/>
<rect x="427.42" y="592.04" width="30.09" height="30.03" fill="#f6faff"/>
<rect x="457.21" y="592.04" width="30.09" height="30.03" fill="#ebf3fb"/>
<rect x="159.30" y="621.77" width="30.09" height="30.03" fill="#f5f9fe"/>
<rect x="189.09" y="621.77" width="30.09" height="30.03" fill="#f7fbff"/>
<rect x="218.88" y="621.77" width="30.09" height="30.03" fill="#f7fbff"/>
<rect x="248.67" y="621.77" width="30.09" height="30.03" fill="#f5fafe"/>
<rect x="278.46" y="621.77" width="30.09" height="30.03" fill="#f2f7fd"/>
<rect x="308.25" y="621.77" width="30.09" height="30.03" fill="#f6faff"/>
<rect x="338.05" y="621.77" width="30.09" height="30.03" fill="#f7fbff"/>
<rect x="367.84" y="621.77" width="30.09" height="30.03" fill="#f5f9fe"/>
<rect x="397.63" y="621.77" width="30.09" height="30.03" fill="#f6faff"/>
<rect x="427.42" y="621.77" width="30.09" height="30.03" fill="#0c56a0"/>
<rect x="457.21" y="621.77" width="30.09" height="30.03" fill="#ebf3fb"/>
<text transform="translate(174.20 369.06) scale(1 1.07)" font-size="13.6" text-anchor="middle" font-family="DejaVu Sans, Liberation Sans, sans-serif" fill="#fff" stroke="#fff" stroke-width="0.08">96.8</text>
<text transform="translate(472.10 369.06) scale(1 1.07)" font-size="13.6" text-anchor="middle" font-family="DejaVu Sans, Liberation Sans, sans-serif" fill="#000" stroke="#000" stroke-width="0.08">1.6</text>
<text transform="translate(203.99 398.79) scale(1 1.07)" font-size="13.6" text-anchor="middle" font-family="DejaVu Sans, Liberation Sans, sans-serif" fill="#fff" stroke="#fff" stroke-width="0.08">96.4</text>
<text transform="translate(412.52 398.79) scale(1 1.07)" font-size="13.6" text-anchor="middle" font-family="DejaVu Sans, Liberation Sans, sans-serif" fill="#000" stroke="#000" stroke-width="0.08">1.3</text>
<text transform="translate(472.10 398.79) scale(1 1.07)" font-size="13.6" text-anchor="middle" font-family="DejaVu Sans, Liberation Sans, sans-serif" fill="#000" stroke="#000" stroke-width="0.08">1.4</text>
<text transform="translate(174.20 428.52) scale(1 1.07)" font-size="13.6" text-anchor="middle" font-family="DejaVu Sans, Liberation Sans, sans-serif" fill="#000" stroke="#000" stroke-width="0.08">1.5</text>
<text transform="translate(233.78 428.52) scale(1 1.07)" font-size="13.6" text-anchor="middle" font-family="DejaVu Sans, Liberation Sans, sans-serif" fill="#fff" stroke="#fff" stroke-width="0.08">88.1</text>
<text transform="translate(352.94 428.52) scale(1 1.07)" font-size="13.6" text-anchor="middle" font-family="DejaVu Sans, Liberation Sans, sans-serif" fill="#000" stroke="#000" stroke-width="0.08">1.0</text>
<text transform="translate(412.52 428.52) scale(1 1.07)" font-size="13.6" text-anchor="middle" font-family="DejaVu Sans, Liberation Sans, sans-serif" fill="#000" stroke="#000" stroke-width="0.08">2.7</text>
<text transform="translate(472.10 428.52) scale(1 1.07)" font-size="13.6" text-anchor="middle" font-family="DejaVu Sans, Liberation Sans, sans-serif" fill="#000" stroke="#000" stroke-width="0.08">4.2</text>
<text transform="translate(233.78 458.25) scale(1 1.07)" font-size="13.6" text-anchor="middle" font-family="DejaVu Sans, Liberation Sans, sans-serif" fill="#000" stroke="#000" stroke-width="0.08">2.1</text>
<text transform="translate(263.57 458.25) scale(1 1.07)" font-size="13.6" text-anchor="middle" font-family="DejaVu Sans, Liberation Sans, sans-serif" fill="#fff" stroke="#fff" stroke-width="0.08">88.2</text>
<text transform="translate(323.15 458.25) scale(1 1.07)" font-size="13.6" text-anchor="middle" font-family="DejaVu Sans, Liberation Sans, sans-serif" fill="#000" stroke="#000" stroke-width="0.08">1.6</text>
<text transform="translate(382.73 458.25) scale(1 1.07)" font-size="13.6" text-anchor="middle" font-family="DejaVu Sans, Liberation Sans, sans-serif" fill="#000" stroke="#000" stroke-width="0.08">1.0</text>
<text transform="translate(412.52 458.25) scale(1 1.07)" font-size="13.6" text-anchor="middle" font-family="DejaVu Sans, Liberation Sans, sans-serif" fill="#000" stroke="#000" stroke-width="0.08">1.2</text>
<text transform="translate(472.10 458.25) scale(1 1.07)" font-size="13.6" text-anchor="middle" font-family="DejaVu Sans, Liberation Sans, sans-serif" fill="#000" stroke="#000" stroke-width="0.08">4.7</text>
<text transform="translate(293.36 487.99) scale(1 1.07)" font-size="13.6" text-anchor="middle" font-family="DejaVu Sans, Liberation Sans, sans-serif" fill="#fff" stroke="#fff" stroke-width="0.08">92.3</text>
<text transform="translate(352.94 487.99) scale(1 1.07)" font-size="13.6" text-anchor="middle" font-family="DejaVu Sans, Liberation Sans, sans-serif" fill="#000" stroke="#000" stroke-width="0.08">1.0</text>
<text transform="translate(442.31 487.99) scale(1 1.07)" font-size="13.6" text-anchor="middle" font-family="DejaVu Sans, Liberation Sans, sans-serif" fill="#000" stroke="#000" stroke-width="0.08">2.1</text>
<text transform="translate(472.10 487.99) scale(1 1.07)" font-size="13.6" text-anchor="middle" font-family="DejaVu Sans, Liberation Sans, sans-serif" fill="#000" stroke="#000" stroke-width="0.08">3.2</text>
<text transform="translate(174.20 517.72) scale(1 1.07)" font-size="13.6" text-anchor="middle" font-family="DejaVu Sans, Liberation Sans, sans-serif" fill="#000" stroke="#000" stroke-width="0.08">2.2</text>
<text transform="translate(263.57 517.72) scale(1 1.07)" font-size="13.6" text-anchor="middle" font-family="DejaVu Sans, Liberation Sans, sans-serif" fill="#000" stroke="#000" stroke-width="0.08">3.2</text>
<text transform="translate(293.36 517.72) scale(1 1.07)" font-size="13.6" text-anchor="middle" font-family="DejaVu Sans, Liberation Sans, sans-serif" fill="#000" stroke="#000" stroke-width="0.08">1.1</text>
<text transform="translate(323.15 517.72) scale(1 1.07)" font-size="13.6" text-anchor="middle" font-family="DejaVu Sans, Liberation Sans, sans-serif" fill="#fff" stroke="#fff" stroke-width="0.08">81.0</text>
<text transform="translate(352.94 517.72) scale(1 1.07)" font-size="13.6" text-anchor="middle" font-family="DejaVu Sans, Liberation Sans, sans-serif" fill="#000" stroke="#000" stroke-width="0.08">1.3</text>
<text transform="translate(412.52 517.72) scale(1 1.07)" font-size="13.6" text-anchor="middle" font-family="DejaVu Sans, Liberation Sans, sans-serif" fill="#000" stroke="#000" stroke-width="0.08">1.9</text>
<text transform="translate(472.10 517.72) scale(1 1.07)" font-size="13.6" text-anchor="middle" font-family="DejaVu Sans, Liberation Sans, sans-serif" fill="#000" stroke="#000" stroke-width="0.08">7.7</text>
<text transform="translate(174.20 547.44) scale(1 1.07)" font-size="13.6" text-anchor="middle" font-family="DejaVu Sans, Liberation Sans, sans-serif" fill="#000" stroke="#000" stroke-width="0.08">2.1</text>
<text transform="translate(323.15 547.44) scale(1 1.07)" font-size="13.6" text-anchor="middle" font-family="DejaVu Sans, Liberation Sans, sans-serif" fill="#000" stroke="#000" stroke-width="0.08">1.4</text>
<text transform="translate(352.94 547.44) scale(1 1.07)" font-size="13.6" text-anchor="middle" font-family="DejaVu Sans, Liberation Sans, sans-serif" fill="#fff" stroke="#fff" stroke-width="0.08">90.4</text>
<text transform="translate(472.10 547.44) scale(1 1.07)" font-size="13.6" text-anchor="middle" font-family="DejaVu Sans, Liberation Sans, sans-serif" fill="#000" stroke="#000" stroke-width="0.08">4.0</text>
<text transform="translate(233.78 577.17) scale(1 1.07)" font-size="13.6" text-anchor="middle" font-family="DejaVu Sans, Liberation Sans, sans-serif" fill="#000" stroke="#000" stroke-width="0.08">2.5</text>
<text transform="translate(382.73 577.17) scale(1 1.07)" font-size="13.6" text-anchor="middle" font-family="DejaVu Sans, Liberation Sans, sans-serif" fill="#fff" stroke="#fff" stroke-width="0.08">89.6</text>
<text transform="translate(442.31 577.17) scale(1 1.07)" font-size="13.6" text-anchor="middle" font-family="DejaVu Sans, Liberation Sans, sans-serif" fill="#000" stroke="#000" stroke-width="0.08">2.1</text>
<text transform="translate(472.10 577.17) scale(1 1.07)" font-size="13.6" text-anchor="middle" font-family="DejaVu Sans, Liberation Sans, sans-serif" fill="#000" stroke="#000" stroke-width="0.08">3.0</text>
<text transform="translate(174.20 606.90) scale(1 1.07)" font-size="13.6" text-anchor="middle" font-family="DejaVu Sans, Liberation Sans, sans-serif" fill="#000" stroke="#000" stroke-width="0.08">1.3</text>
<text transform="translate(233.78 606.90) scale(1 1.07)" font-size="13.6" text-anchor="middle" font-family="DejaVu Sans, Liberation Sans, sans-serif" fill="#000" stroke="#000" stroke-width="0.08">1.1</text>
<text transform="translate(263.57 606.90) scale(1 1.07)" font-size="13.6" text-anchor="middle" font-family="DejaVu Sans, Liberation Sans, sans-serif" fill="#000" stroke="#000" stroke-width="0.08">1.9</text>
<text transform="translate(293.36 606.90) scale(1 1.07)" font-size="13.6" text-anchor="middle" font-family="DejaVu Sans, Liberation Sans, sans-serif" fill="#000" stroke="#000" stroke-width="0.08">1.0</text>
<text transform="translate(382.73 606.90) scale(1 1.07)" font-size="13.6" text-anchor="middle" font-family="DejaVu Sans, Liberation Sans, sans-serif" fill="#000" stroke="#000" stroke-width="0.08">1.4</text>
<text transform="translate(412.52 606.90) scale(1 1.07)" font-size="13.6" text-anchor="middle" font-family="DejaVu Sans, Liberation Sans, sans-serif" fill="#fff" stroke="#fff" stroke-width="0.08">84.7</text>
<text transform="translate(472.10 606.90) scale(1 1.07)" font-size="13.6" text-anchor="middle" font-family="DejaVu Sans, Liberation Sans, sans-serif" fill="#000" stroke="#000" stroke-width="0.08">6.1</text>
<text transform="translate(174.20 636.63) scale(1 1.07)" font-size="13.6" text-anchor="middle" font-family="DejaVu Sans, Liberation Sans, sans-serif" fill="#000" stroke="#000" stroke-width="0.08">1.5</text>
<text transform="translate(293.36 636.63) scale(1 1.07)" font-size="13.6" text-anchor="middle" font-family="DejaVu Sans, Liberation Sans, sans-serif" fill="#000" stroke="#000" stroke-width="0.08">3.1</text>
<text transform="translate(382.73 636.63) scale(1 1.07)" font-size="13.6" text-anchor="middle" font-family="DejaVu Sans, Liberation Sans, sans-serif" fill="#000" stroke="#000" stroke-width="0.08">1.5</text>
<text transform="translate(442.31 636.63) scale(1 1.07)" font-size="13.6" text-anchor="middle" font-family="DejaVu Sans, Liberation Sans, sans-serif" fill="#fff" stroke="#fff" stroke-width="0.08">85.2</text>
<text transform="translate(472.10 636.63) scale(1 1.07)" font-size="13.6" text-anchor="middle" font-family="DejaVu Sans, Liberation Sans, sans-serif" fill="#000" stroke="#000" stroke-width="0.08">5.9</text>
<rect x="159.3" y="354.2" width="327.70" height="297.30" fill="none" stroke="#000" stroke-width="1.2"/>
<line x1="174.20" y1="354.20" x2="174.20" y2="349.40" stroke="#000" stroke-width="1.15"/>
<text transform="translate(174.70 342.20) scale(1 1.07)" font-size="13.6" text-anchor="middle" font-family="DejaVu Sans, Liberation Sans, sans-serif" fill="#000" stroke="#000" stroke-width="0.08">0</text>
<line x1="203.99" y1="354.20" x2="203.99" y2="349.40" stroke="#000" stroke-width="1.15"/>
<text transform="translate(204.49 342.20) scale(1 1.07)" font-size="13.6" text-anchor="middle" font-family="DejaVu Sans, Liberation Sans, sans-serif" fill="#000" stroke="#000" stroke-width="0.08">1</text>
<line x1="233.78" y1="354.20" x2="233.78" y2="349.40" stroke="#000" stroke-width="1.15"/>
<text transform="translate(234.28 342.20) scale(1 1.07)" font-size="13.6" text-anchor="middle" font-family="DejaVu Sans, Liberation Sans, sans-serif" fill="#000" stroke="#000" stroke-width="0.08">2</text>
<line x1="263.57" y1="354.20" x2="263.57" y2="349.40" stroke="#000" stroke-width="1.15"/>
<text transform="translate(264.07 342.20) scale(1 1.07)" font-size="13.6" text-anchor="middle" font-family="DejaVu Sans, Liberation Sans, sans-serif" fill="#000" stroke="#000" stroke-width="0.08">3</text>
<line x1="293.36" y1="354.20" x2="293.36" y2="349.40" stroke="#000" stroke-width="1.15"/>
<text transform="translate(293.86 342.20) scale(1 1.07)" font-size="13.6" text-anchor="middle" font-family="DejaVu Sans, Liberation Sans, sans-serif" fill="#000" stroke="#000" stroke-width="0.08">4</text>
<line x1="323.15" y1="354.20" x2="323.15" y2="349.40" stroke="#000" stroke-width="1.15"/>
<text transform="translate(323.65 342.20) scale(1 1.07)" font-size="13.6" text-anchor="middle" font-family="DejaVu Sans, Liberation Sans, sans-serif" fill="#000" stroke="#000" stroke-width="0.08">5</text>
<line x1="352.94" y1="354.20" x2="352.94" y2="349.40" stroke="#000" stroke-width="1.15"/>
<text transform="translate(353.44 342.20) scale(1 1.07)" font-size="13.6" text-anchor="middle" font-family="DejaVu Sans, Liberation Sans, sans-serif" fill="#000" stroke="#000" stroke-width="0.08">6</text>
<line x1="382.73" y1="354.20" x2="382.73" y2="349.40" stroke="#000" stroke-width="1.15"/>
<text transform="translate(383.23 342.20) scale(1 1.07)" font-size="13.6" text-anchor="middle" font-family="DejaVu Sans, Liberation Sans, sans-serif" fill="#000" stroke="#000" stroke-width="0.08">7</text>
<line x1="412.52" y1="354.20" x2="412.52" y2="349.40" stroke="#000" stroke-width="1.15"/>
<text transform="translate(413.02 342.20) scale(1 1.07)" font-size="13.6" text-anchor="middle" font-family="DejaVu Sans, Liberation Sans, sans-serif" fill="#000" stroke="#000" stroke-width="0.08">8</text>
<line x1="442.31" y1="354.20" x2="442.31" y2="349.40" stroke="#000" stroke-width="1.15"/>
<text transform="translate(442.81 342.20) scale(1 1.07)" font-size="13.6" text-anchor="middle" font-family="DejaVu Sans, Liberation Sans, sans-serif" fill="#000" stroke="#000" stroke-width="0.08">9</text>
<line x1="472.10" y1="354.20" x2="472.10" y2="349.40" stroke="#000" stroke-width="1.15"/>
<text transform="translate(472.60 342.20) scale(1 1.07)" font-size="13.6" text-anchor="middle" font-family="DejaVu Sans, Liberation Sans, sans-serif" fill="#000" stroke="#000" stroke-width="0.08">∅</text>
<line x1="159.30" y1="369.06" x2="154.50" y2="369.06" stroke="#000" stroke-width="1.15"/>
<text transform="translate(149.40 374.38) scale(1 1.07)" font-size="13.6" text-anchor="end" font-family="DejaVu Sans, Liberation Sans, sans-serif" fill="#000" stroke="#000" stroke-width="0.08">0</text>
<line x1="159.30" y1="398.79" x2="154.50" y2="398.79" stroke="#000" stroke-width="1.15"/>
<text transform="translate(149.40 404.11) scale(1 1.07)" font-size="13.6" text-anchor="end" font-family="DejaVu Sans, Liberation Sans, sans-serif" fill="#000" stroke="#000" stroke-width="0.08">1</text>
<line x1="159.30" y1="428.52" x2="154.50" y2="428.52" stroke="#000" stroke-width="1.15"/>
<text transform="translate(149.40 433.84) scale(1 1.07)" font-size="13.6" text-anchor="end" font-family="DejaVu Sans, Liberation Sans, sans-serif" fill="#000" stroke="#000" stroke-width="0.08">2</text>
<line x1="159.30" y1="458.25" x2="154.50" y2="458.25" stroke="#000" stroke-width="1.15"/>
<text transform="translate(149.40 463.57) scale(1 1.07)" font-size="13.6" text-anchor="end" font-family="DejaVu Sans, Liberation Sans, sans-serif" fill="#000" stroke="#000" stroke-width="0.08">3</text>
<line x1="159.30" y1="487.99" x2="154.50" y2="487.99" stroke="#000" stroke-width="1.15"/>
<text transform="translate(149.40 493.30) scale(1 1.07)" font-size="13.6" text-anchor="end" font-family="DejaVu Sans, Liberation Sans, sans-serif" fill="#000" stroke="#000" stroke-width="0.08">4</text>
<line x1="159.30" y1="517.72" x2="154.50" y2="517.72" stroke="#000" stroke-width="1.15"/>
<text transform="translate(149.40 523.03) scale(1 1.07)" font-size="13.6" text-anchor="end" font-family="DejaVu Sans, Liberation Sans, sans-serif" fill="#000" stroke="#000" stroke-width="0.08">5</text>
<line x1="159.30" y1="547.44" x2="154.50" y2="547.44" stroke="#000" stroke-width="1.15"/>
<text transform="translate(149.40 552.76) scale(1 1.07)" font-size="13.6" text-anchor="end" font-family="DejaVu Sans, Liberation Sans, sans-serif" fill="#000" stroke="#000" stroke-width="0.08">6</text>
<line x1="159.30" y1="577.17" x2="154.50" y2="577.17" stroke="#000" stroke-width="1.15"/>
<text transform="translate(149.40 582.49) scale(1 1.07)" font-size="13.6" text-anchor="end" font-family="DejaVu Sans, Liberation Sans, sans-serif" fill="#000" stroke="#000" stroke-width="0.08">7</text>
<line x1="159.30" y1="606.90" x2="154.50" y2="606.90" stroke="#000" stroke-width="1.15"/>
<text transform="translate(149.40 612.22) scale(1 1.07)" font-size="13.6" text-anchor="end" font-family="DejaVu Sans, Liberation Sans, sans-serif" fill="#000" stroke="#000" stroke-width="0.08">8</text>
<line x1="159.30" y1="636.63" x2="154.50" y2="636.63" stroke="#000" stroke-width="1.15"/>
<text transform="translate(149.40 641.95) scale(1 1.07)" font-size="13.6" text-anchor="end" font-family="DejaVu Sans, Liberation Sans, sans-serif" fill="#000" stroke="#000" stroke-width="0.08">9</text>
<text transform="translate(133.00 502.85) rotate(-90)" font-size="13.85" text-anchor="middle" font-family="DejaVu Sans, Liberation Sans, sans-serif" fill="#000" stroke="#000" stroke-width="0.08">True label</text>
<text x="323.15" y="666.70" font-size="13.6" text-anchor="middle" font-family="DejaVu Sans, Liberation Sans, sans-serif" fill="#000" stroke="#000" stroke-width="0.08">Predicted label</text>
<linearGradient id="cg" x1="0" y1="0" x2="0" y2="1"><stop offset="0.0000" stop-color="#08306b"/><stop offset="0.0312" stop-color="#083776"/><stop offset="0.0625" stop-color="#084082"/><stop offset="0.0938" stop-color="#08488e"/><stop offset="0.1250" stop-color="#08509b"/><stop offset="0.1562" stop-color="#0e58a2"/><stop offset="0.1875" stop-color="#1460a8"/><stop offset="0.2188" stop-color="#1a68ae"/><stop offset="0.2500" stop-color="#2070b4"/><stop offset="0.2812" stop-color="#2979b9"/><stop offset="0.3125" stop-color="#3181bd"/><stop offset="0.3438" stop-color="#3989c1"/><stop offset="0.3750" stop-color="#4191c6"/><stop offset="0.4062" stop-color="#4b98ca"/><stop offset="0.4375" stop-color="#56a0ce"/><stop offset="0.4688" stop-color="#60a7d2"/><stop offset="0.5000" stop-color="#6aaed6"/><stop offset="0.5312" stop-color="#77b5d9"/><stop offset="0.5625" stop-color="#84bcdb"/><stop offset="0.5938" stop-color="#91c3de"/><stop offset="0.6250" stop-color="#9dcae1"/><stop offset="0.6562" stop-color="#a8cee4"/><stop offset="0.6875" stop-color="#b2d2e8"/><stop offset="0.7188" stop-color="#bcd7eb"/><stop offset="0.7500" stop-color="#c6dbef"/><stop offset="0.7812" stop-color="#ccdff1"/><stop offset="0.8125" stop-color="#d2e3f3"/><stop offset="0.8438" stop-color="#d8e7f5"/><stop offset="0.8750" stop-color="#deebf7"/><stop offset="0.9062" stop-color="#e4eff9"/><stop offset="0.9375" stop-color="#eaf3fb"/><stop offset="0.9688" stop-color="#f1f7fd"/><stop offset="1.0000" stop-color="#f7fbff"/></linearGradient>
<rect x="509.6" y="354.1" width="14.90" height="297.50" fill="url(#cg)" stroke="#000" stroke-width="1.2"/>
<line x1="524.50" y1="651.60" x2="529.30" y2="651.60" stroke="#000" stroke-width="1.15"/>
<text transform="translate(534.30 657.21) scale(1 1.07)" font-size="13.6" text-anchor="start" font-family="DejaVu Sans, Liberation Sans, sans-serif" fill="#000" stroke="#000" stroke-width="0.08">0</text>
<line x1="524.50" y1="592.10" x2="529.30" y2="592.10" stroke="#000" stroke-width="1.15"/>
<text transform="translate(534.30 597.71) scale(1 1.07)" font-size="13.6" text-anchor="start" font-family="DejaVu Sans, Liberation Sans, sans-serif" fill="#000" stroke="#000" stroke-width="0.08">20</text>
<line x1="524.50" y1="532.60" x2="529.30" y2="532.60" stroke="#000" stroke-width="1.15"/>
<text transform="translate(534.30 538.21) scale(1 1.07)" font-size="13.6" text-anchor="start" font-family="DejaVu Sans, Liberation Sans, sans-serif" fill="#000" stroke="#000" stroke-width="0.08">40</text>
<line x1="524.50" y1="473.10" x2="529.30" y2="473.10" stroke="#000" stroke-width="1.15"/>
<text transform="translate(534.30 478.71) scale(1 1.07)" font-size="13.6" text-anchor="start" font-family="DejaVu Sans, Liberation Sans, sans-serif" fill="#000" stroke="#000" stroke-width="0.08">60</text>
<line x1="524.50" y1="413.60" x2="529.30" y2="413.60" stroke="#000" stroke-width="1.15"/>
<text transform="translate(534.30 419.21) scale(1 1.07)" font-size="13.6" text-anchor="start" font-family="DejaVu Sans, Liberation Sans, sans-serif" fill="#000" stroke="#000" stroke-width="0.08">80</text>
<line x1="524.50" y1="354.10" x2="529.30" y2="354.10" stroke="#000" stroke-width="1.15"/>
<text transform="translate(534.30 359.71) scale(1 1.07)" font-size="13.6" text-anchor="start" font-family="DejaVu Sans, Liberation Sans, sans-serif" fill="#000" stroke="#000" stroke-width="0.08">100</text>
<text x="519.80" y="671.90" font-size="13.6" text-anchor="middle" font-family="DejaVu Sans, Liberation Sans, sans-serif" fill="#000" stroke="#000" stroke-width="0.08">(%)</text>
<text x="5.9" y="17.0" font-size="11" font-family="Liberation Sans, Arial, sans-serif" font-weight="bold" fill="#000" stroke="#000" stroke-width="0.2">A</text>
<text x="344.8" y="16.7" font-size="11" font-family="Liberation Sans, Arial, sans-serif" font-weight="bold" fill="#000" stroke="#000" stroke-width="0.2">B</text>
<text x="117.2" y="334.6" font-size="11" font-family="Liberation Sans, Arial, sans-serif" font-weight="bold" fill="#000" stroke="#000" stroke-width="0.2">C</text>
</svg>
</body></html>
